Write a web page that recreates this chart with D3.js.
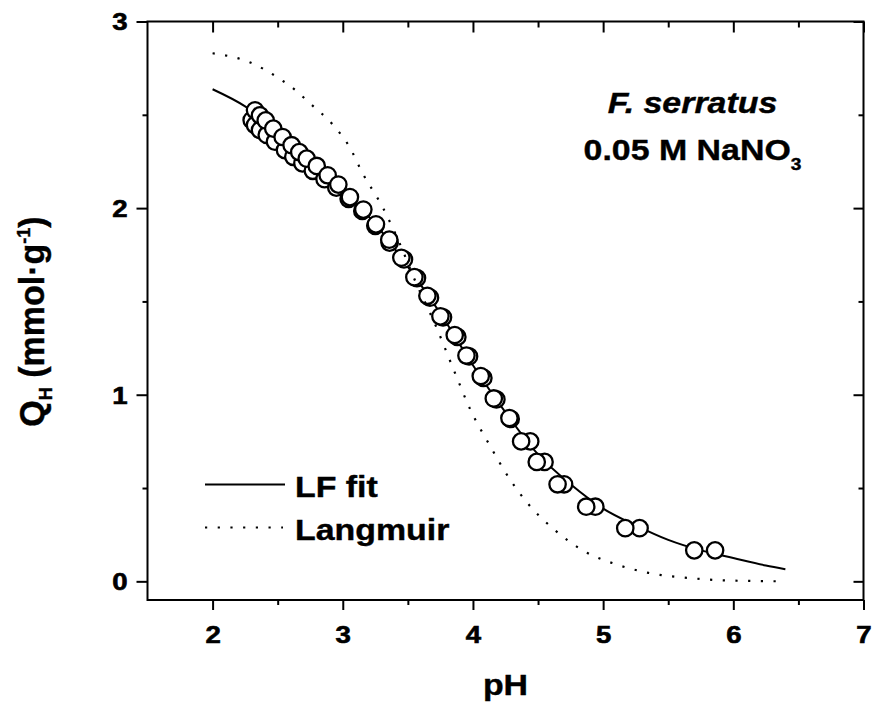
<!DOCTYPE html>
<html>
<head>
<meta charset="utf-8">
<script src="https://cdn.jsdelivr.net/npm/d3@7"></script>
<style>
  html, body { margin: 0; padding: 0; background: #fff; }
  svg { display: block; }
  text { font-family: "Liberation Sans", Arial, sans-serif; font-weight: bold; fill: #000; }
</style>
</head>
<body>
<svg id="chart" width="874" height="711"></svg>
<script>
// ---- Data ----
// Measured points, series A (upper-right member of each overlapping pair)
const phA = [2.326, 2.364, 2.408, 2.466, 2.538, 2.607, 2.666, 2.723, 2.80, 2.884, 2.966, 3.055, 3.158, 3.255, 3.357, 3.45, 3.55, 3.65, 3.75, 3.86, 3.95, 4.06, 4.16, 4.28, 4.37, 4.49, 4.65, 4.87, 5.17, 5.70];
const qA  = [2.524, 2.497, 2.47, 2.426, 2.381, 2.337, 2.30, 2.265, 2.226, 2.176, 2.126, 2.059, 1.992, 1.913, 1.831, 1.734, 1.63, 1.53, 1.42, 1.32, 1.21, 1.10, 0.98, 0.875, 0.75, 0.64, 0.52, 0.40, 0.285, 0.166];
// Measured points, series B (second overlapping titration)
const phB = [2.30, 2.326, 2.364, 2.416, 2.479, 2.556, 2.62, 2.69, 2.77, 2.86, 2.95, 3.045, 3.15, 3.25, 3.36, 3.47, 3.57, 3.67, 3.77, 3.88, 3.97, 4.08, 4.18, 4.29, 4.44, 4.55, 4.70, 4.94, 5.28, 5.86];
const qB  = [2.472, 2.445, 2.418, 2.392, 2.356, 2.311, 2.275, 2.24, 2.20, 2.155, 2.11, 2.05, 1.985, 1.905, 1.815, 1.725, 1.625, 1.52, 1.415, 1.31, 1.205, 1.09, 0.975, 0.87, 0.75, 0.64, 0.52, 0.40, 0.285, 0.166];
// LF fit curve (solid)
const lfPH = [2.0, 2.25, 2.5, 2.75, 3.0, 3.25, 3.5, 3.75, 4.0, 4.25, 4.5, 4.75, 5.0, 5.25, 5.5, 5.75, 6.0, 6.25, 6.4];
const lfQ  = [2.637, 2.545, 2.41, 2.25, 2.095, 1.915, 1.685, 1.435, 1.158, 0.905, 0.68, 0.52, 0.39, 0.30, 0.222, 0.166, 0.125, 0.085, 0.065];
// Langmuir curve (dotted)
const lgPH = [2.0, 2.29, 2.5, 2.64, 2.75, 2.92, 3.05, 3.15, 3.31, 3.45, 3.55, 3.72, 3.86, 3.98, 4.12, 4.29, 4.43, 4.61, 4.88, 5.07, 5.35, 5.66, 5.94, 6.4];
const lgQ  = [2.83, 2.78, 2.70, 2.63, 2.56, 2.45, 2.33, 2.19, 2.00, 1.79, 1.62, 1.36, 1.12, 0.92, 0.74, 0.54, 0.41, 0.286, 0.152, 0.098, 0.045, 0.018, 0.005, 0.0];
// Axis ticks
const xMajor = [2, 3, 4, 5, 6, 7];
const xMinor = [2.5, 3.5, 4.5, 5.5, 6.5];
const yMajor = [0, 1, 2, 3];
const yMinor = [0.5, 1.5, 2.5];
// Texts
const xTitle = "pH";
const legendLabels = ["LF fit", "Langmuir"];
const annot1 = "F. serratus";
const annot2 = "0.05 M NaNO";
const annot2Sub = "3";

// ---- Layout ----
const svg = d3.select("#chart");
const L = 147.5, R = 863.5, T = 21.5, B = 600;
const x = d3.scaleLinear().domain([1.5, 7]).range([L, R]);
const y = d3.scaleLinear().domain([-0.1, 3]).range([B, T]);
const TS = 1.2;    // horizontal stretch of tick label glyphs
const LS = 1.13;   // horizontal stretch of larger texts

function styleAxis(g) {
  g.select(".domain").remove();
  g.selectAll(".tick line").attr("stroke", "#000").attr("stroke-width", 2);
}

// bottom axis
const gB = svg.append("g").attr("transform", `translate(0,${B})`)
  .call(d3.axisBottom(x).tickValues(xMajor).tickSize(10).tickFormat(d3.format("d")));
styleAxis(gB);
gB.selectAll("text").attr("font-size", 23).attr("y", 43).attr("dy", 0)
  .attr("stroke", "#000").attr("stroke-width", 0.6)
  .attr("transform", `scale(${TS},1)`);
const gBm = svg.append("g").attr("transform", `translate(0,${B})`)
  .call(d3.axisBottom(x).tickValues(xMinor).tickSize(5).tickFormat(""));
styleAxis(gBm);

// top axis (ticks inward)
const gT = svg.append("g").attr("transform", `translate(0,${T})`)
  .call(d3.axisTop(x).tickValues(xMajor).tickSize(-11).tickFormat(""));
styleAxis(gT);
const gTm = svg.append("g").attr("transform", `translate(0,${T})`)
  .call(d3.axisTop(x).tickValues(xMinor).tickSize(-6).tickFormat(""));
styleAxis(gTm);

// left axis
const gL = svg.append("g").attr("transform", `translate(${L},0)`)
  .call(d3.axisLeft(y).tickValues(yMajor).tickSize(11).tickFormat(d3.format("d")));
styleAxis(gL);
gL.selectAll("text").attr("font-size", 23).attr("x", -20 / TS).attr("dy", "0.36em")
  .attr("stroke", "#000").attr("stroke-width", 0.6)
  .attr("transform", `scale(${TS},1)`);
const gLm = svg.append("g").attr("transform", `translate(${L},0)`)
  .call(d3.axisLeft(y).tickValues(yMinor).tickSize(5).tickFormat(""));
styleAxis(gLm);

// right axis (ticks inward)
const gR = svg.append("g").attr("transform", `translate(${R},0)`)
  .call(d3.axisRight(y).tickValues(yMajor).tickSize(-10).tickFormat(""));
styleAxis(gR);
const gRm = svg.append("g").attr("transform", `translate(${R},0)`)
  .call(d3.axisRight(y).tickValues(yMinor).tickSize(-5).tickFormat(""));
styleAxis(gRm);

// frame
svg.append("rect").attr("x", L).attr("y", T).attr("width", R - L).attr("height", B - T)
  .attr("fill", "none").attr("stroke", "#000").attr("stroke-width", 2);

// ---- Marks ----
const line = d3.line().x(d => x(d[0])).y(d => y(d[1])).curve(d3.curveMonotoneX);
const lfData = lfPH.map((p, i) => [p, lfQ[i]]);
const lgData = lgPH.map((p, i) => [p, lgQ[i]]);

svg.append("path").datum(lfData).attr("d", line)
  .attr("fill", "none").attr("stroke", "#000").attr("stroke-width", 2);

const ptsB = phB.map((p, i) => [p, qB[i]]);
const ptsA = phA.map((p, i) => [p, qA[i]]);
[ptsB, ptsA].forEach(pts => {
  svg.append("g").selectAll("circle").data(pts).join("circle")
    .attr("cx", d => x(d[0])).attr("cy", d => y(d[1])).attr("r", 8.2)
    .attr("fill", "#fff").attr("stroke", "#000").attr("stroke-width", 2.3);
});

svg.append("path").datum(lgData).attr("d", line)
  .attr("fill", "none").attr("stroke", "#000").attr("stroke-width", 2.2)
  .attr("stroke-dasharray", "2.2,10.5");

// ---- Legend ----
const legY = [484.5, 527.5];
svg.append("line").attr("x1", 205).attr("x2", 285).attr("y1", legY[0]).attr("y2", legY[0])
  .attr("stroke", "#000").attr("stroke-width", 2);
svg.append("line").attr("x1", 205).attr("x2", 283).attr("y1", legY[1]).attr("y2", legY[1])
  .attr("stroke", "#000").attr("stroke-width", 2.2).attr("stroke-dasharray", "2.2,10.5");
legendLabels.forEach((t, i) => {
  svg.append("text").attr("transform", `translate(295,${legY[i] + 12}) scale(${LS},1)`)
    .attr("font-size", 30).attr("stroke", "#000").attr("stroke-width", 0.4).text(t);
});

// ---- Annotation ----
svg.append("text").attr("transform", `translate(692.5,113.3) scale(${LS},1)`)
  .attr("text-anchor", "middle").attr("font-size", 30).attr("font-style", "italic")
  .attr("stroke", "#000").attr("stroke-width", 0.4).text(annot1);
const a2 = svg.append("text").attr("transform", `translate(692.5,160) scale(${LS},1)`)
  .attr("text-anchor", "middle").attr("font-size", 30)
  .attr("stroke", "#000").attr("stroke-width", 0.4);
a2.append("tspan").text(annot2);
a2.append("tspan").attr("font-size", 17).attr("dy", 10).text(annot2Sub);

// ---- Axis titles ----
svg.append("text").attr("transform", `translate(${(L + R) / 2},695) scale(${LS},1)`)
  .attr("text-anchor", "middle").attr("font-size", 30)
  .attr("stroke", "#000").attr("stroke-width", 0.4).text(xTitle);

const yt = svg.append("text")
  .attr("transform", `translate(44,${321.5}) rotate(-90) scale(1,1.03)`)
  .attr("text-anchor", "middle").attr("font-size", 34)
  .attr("stroke", "#000").attr("stroke-width", 0.4);
yt.append("tspan").text("Q");
yt.append("tspan").attr("font-size", 18).attr("dy", 8).text("H");
yt.append("tspan").attr("dy", -8).text(" (mmol\u00B7g");
yt.append("tspan").attr("font-size", 18).attr("dy", -14).text("-1");
yt.append("tspan").attr("dy", 14).text(")");
</script>
</body>
</html>
